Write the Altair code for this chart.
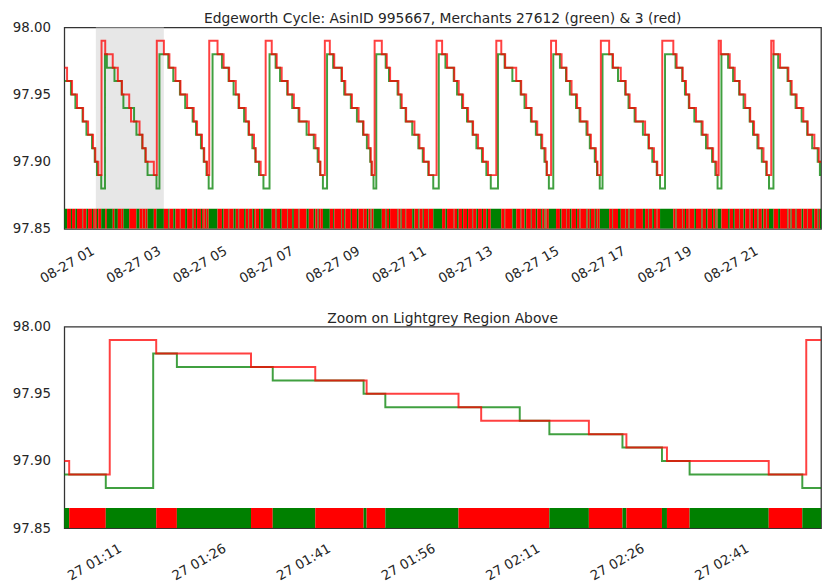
import altair as alt
import pandas as pd

DAY = (2017, 8, 27)

# ---- data (times on 08-27, prices) ----
red_times = [
    "00:02", "00:07", "00:16", "00:25", "00:36", "00:45", "00:54", "00:58", "01:03:29",
    "01:09:18", "01:15:58", "01:29:34", "01:38:47", "01:46:09", "01:59:20", "02:02:35", "02:18:02", "02:23:25", "02:29:14", "02:43:50",
    "02:49:13", "03:02", "03:12", "03:23", "03:32", "03:44", "03:56", "04:02", "04:11", "04:15", "04:20",
    "04:24", "04:39", "04:50", "05:00", "05:12", "05:18", "05:30", "05:36", "05:45", "05:48", "05:57",
    "06:06", "06:17", "06:26", "06:35", "06:46", "06:57", "07:07", "07:24", "07:36", "07:42", "07:45",
    "07:53", "08:02", "08:10", "08:24", "08:30", "08:42", "08:54", "09:03", "09:12", "09:16", "09:18",
    "09:23", "09:36", "09:45", "09:51", "10:06", "10:12", "10:20", "10:35", "10:44", "10:52", "11:01",
    "11:15", "11:25", "11:34", "11:47", "11:55", "12:03", "12:12", "12:21", "12:30", "12:39", "12:48",
    "13:03", "13:12", "13:19", "13:39", "13:48", "13:57", "14:07", "14:17", "14:26", "14:32", "14:34:24",
    "14:42", "14:51", "15:01", "15:10", "15:19", "15:29", "15:35", "15:48", "15:54", "16:03", "16:06",
    "16:12", "16:27", "16:34", "16:48", "16:57", "17:04", "17:15", "17:32", "17:39", "17:48", "17:54",
    "18:03", "18:23", "18:29", "18:40", "18:46", "18:52", "19:04", "19:16", "19:25", "19:35", "19:41",
    "19:45", "19:49", "20:05", "20:14", "20:23", "20:33", "20:42", "20:49", "20:57", "21:06", "21:12",
    "21:20", "21:24:18", "21:36", "21:51", "21:57", "22:06", "22:18", "22:26", "22:38", "22:46", "22:50",
]
red_prices = [
    97.97, 97.96, 97.95, 97.94, 97.93, 97.92, 97.91, 97.90, 97.89,
    97.99, 97.98, 97.97, 97.96, 97.95, 97.94, 97.93, 97.92, 97.91, 97.90, 97.89,
    97.99, 97.98, 97.97, 97.96, 97.95, 97.94, 97.93, 97.92, 97.91, 97.90, 97.89,
    97.99, 97.98, 97.97, 97.96, 97.95, 97.94, 97.93, 97.92, 97.91, 97.90, 97.89,
    97.99, 97.98, 97.97, 97.96, 97.95, 97.94, 97.93, 97.92, 97.91, 97.90, 97.89,
    97.99, 97.98, 97.97, 97.96, 97.95, 97.94, 97.93, 97.92, 97.91, 97.90, 97.89,
    97.99, 97.98, 97.97, 97.96, 97.95, 97.94, 97.93, 97.92, 97.91, 97.90, 97.89,
    97.99, 97.98, 97.97, 97.96, 97.95, 97.94, 97.93, 97.92, 97.91, 97.90, 97.89,
    97.99, 97.98, 97.97, 97.96, 97.95, 97.94, 97.93, 97.92, 97.91, 97.90, 97.89,
    97.99, 97.98, 97.97, 97.96, 97.95, 97.94, 97.93, 97.92, 97.91, 97.90, 97.89,
    97.99, 97.98, 97.97, 97.96, 97.95, 97.94, 97.93, 97.92, 97.91, 97.90, 97.89,
    97.99, 97.98, 97.97, 97.96, 97.95, 97.94, 97.93, 97.92, 97.91, 97.90, 97.89,
    97.99, 97.98, 97.97, 97.96, 97.95, 97.94, 97.93, 97.92, 97.91, 97.90, 97.89,
    97.99, 97.98, 97.97, 97.96, 97.95, 97.94, 97.93, 97.92, 97.91, 97.90, 97.90,
]
green_times = [
    "00:02", "00:14", "00:22", "00:35", "00:42", "00:52", "00:57", "01:01", "01:08:44",
    "01:15:32", "01:18:56", "01:32:41", "01:45:43", "01:48:50", "02:08:07", "02:12:22", "02:22:51", "02:28:31", "02:32:29", "02:48:39",
    "02:54", "03:10", "03:19", "03:31", "03:40:30", "03:54", "04:00", "04:09", "04:14", "04:19", "04:23",
    "04:30", "04:47", "04:59", "05:08", "05:17", "05:27", "05:35", "05:42", "05:47:18", "05:54", "06:02",
    "06:13", "06:24", "06:32", "06:45", "06:54", "07:05:30", "07:20", "07:33", "07:40", "07:44:30", "07:49:30",
    "07:57", "08:08", "08:23", "08:28", "08:40", "08:51", "09:02", "09:09", "09:15", "09:17:18", "09:21",
    "09:26", "09:43", "09:49", "10:04:30", "10:10", "10:19", "10:31", "10:42", "10:50", "11:00", "11:09",
    "11:19", "11:31", "11:46", "11:52", "12:01", "12:10", "12:20", "12:27", "12:37", "12:45", "12:53",
    "13:06", "13:18", "13:32", "13:47", "13:54", "14:05:30", "14:14:30", "14:24", "14:30", "14:33:54", "14:38",
    "14:46", "14:58", "15:09", "15:16", "15:27", "15:33:30", "15:46", "15:52", "16:01", "16:05", "16:10",
    "16:15", "16:33", "16:43", "16:56", "17:02", "17:13", "17:28", "17:38", "17:45", "17:53", "17:59",
    "18:08", "18:27", "18:39", "18:44", "18:51", "19:01", "19:14", "19:22", "19:33", "19:39", "19:43",
    "19:50", "20:02", "20:11", "20:22", "20:30", "20:41", "20:47", "20:55", "21:03", "21:11", "21:16",
    "21:24", "21:32:30", "21:49:30", "21:55", "22:04", "22:15", "22:25", "22:34", "22:44", "22:48", "22:50",
]
green_prices = [
    97.96, 97.95, 97.94, 97.93, 97.92, 97.91, 97.90, 97.89, 97.88,
    97.98, 97.97, 97.96, 97.95, 97.94, 97.93, 97.92, 97.91, 97.90, 97.89, 97.88,
    97.98, 97.97, 97.96, 97.95, 97.94, 97.93, 97.92, 97.91, 97.90, 97.89, 97.88,
    97.98, 97.97, 97.96, 97.95, 97.94, 97.93, 97.92, 97.91, 97.90, 97.89, 97.88,
    97.98, 97.97, 97.96, 97.95, 97.94, 97.93, 97.92, 97.91, 97.90, 97.89, 97.88,
    97.98, 97.97, 97.96, 97.95, 97.94, 97.93, 97.92, 97.91, 97.90, 97.89, 97.88,
    97.98, 97.97, 97.96, 97.95, 97.94, 97.93, 97.92, 97.91, 97.90, 97.89, 97.88,
    97.98, 97.97, 97.96, 97.95, 97.94, 97.93, 97.92, 97.91, 97.90, 97.89, 97.88,
    97.98, 97.97, 97.96, 97.95, 97.94, 97.93, 97.92, 97.91, 97.90, 97.89, 97.88,
    97.98, 97.97, 97.96, 97.95, 97.94, 97.93, 97.92, 97.91, 97.90, 97.89, 97.88,
    97.98, 97.97, 97.96, 97.95, 97.94, 97.93, 97.92, 97.91, 97.90, 97.89, 97.88,
    97.98, 97.97, 97.96, 97.95, 97.94, 97.93, 97.92, 97.91, 97.90, 97.89, 97.88,
    97.98, 97.97, 97.96, 97.95, 97.94, 97.93, 97.92, 97.91, 97.90, 97.89, 97.88,
    97.98, 97.97, 97.96, 97.95, 97.94, 97.93, 97.92, 97.91, 97.90, 97.89, 97.89,
]
grey_span = ["00:59", "03:02"]
top_domain = ["00:02", "22:50"]
bottom_domain = ["01:02:47", "02:51:20"]
top_ticks = ["01:00", "03:00", "05:00", "07:00", "09:00", "11:00",
             "13:00", "15:00", "17:00", "19:00", "21:00"]
bottom_ticks = ["01:11", "01:26", "01:41", "01:56", "02:11", "02:26", "02:41"]
y_ticks = [97.85, 97.90, 97.95, 98.00]
merchants = ["27612", "3"]  # green, red

TITLE_TOP = "Edgeworth Cycle: AsinID 995667, Merchants 27612 (green) & 3 (red)"
TITLE_BOTTOM = "Zoom on Lightgrey Region Above"


def hms(s):
    p = [int(v) for v in s.split(":")]
    while len(p) < 3:
        p.append(0)
    return p


def ts(s):
    h, m, sec = hms(s)
    return pd.Timestamp(DAY[0], DAY[1], DAY[2], h, m, sec)


def dt(s):
    h, m, sec = hms(s)
    return alt.DateTime(year=DAY[0], month=DAY[1], date=DAY[2], hours=h, minutes=m, seconds=sec)


rt = [ts(s) for s in red_times]
gt = [ts(s) for s in green_times]

lines = pd.concat([
    pd.DataFrame({"time": gt, "price": green_prices, "merchant": merchants[0]}),
    pd.DataFrame({"time": rt, "price": red_prices, "merchant": merchants[1]}),
])


def price_at(times, prices, t):
    cur = prices[0]
    for tt, pp in zip(times, prices):
        if tt <= t:
            cur = pp
        else:
            break
    return cur


# strip: green where merchant 27612 is strictly cheaper, red otherwise
events = sorted(set(rt + gt))
segs = []
for a, b in zip(events[:-1], events[1:]):
    who = merchants[0] if price_at(gt, green_prices, a) < price_at(rt, red_prices, a) - 1e-9 else merchants[1]
    if segs and segs[-1]["leader"] == who:
        segs[-1]["time2"] = b
    else:
        segs.append({"time": a, "time2": b, "leader": who})
strip = pd.DataFrame(segs)
grey = pd.DataFrame({"time": [ts(grey_span[0])], "time2": [ts(grey_span[1])]})

FONT = "DejaVu Sans"
TXT = "#262626"
W, H = 766, 204


def panel(title, domain, ticks, fmt, with_grey, lab_pad, lab_off, extent):
    xs = alt.Scale(domain=[dt(domain[0]), dt(domain[1])])
    xa = alt.Axis(values=[dt(t) for t in ticks], format=fmt, labelAngle=330,
                  labelAlign="right", labelBaseline="top", labelOffset=lab_off,
                  labelPadding=lab_pad, ticks=False, tickSize=0, domain=False, grid=False,
                  title=None, minExtent=extent, maxExtent=extent, labelOverlap=False,
                  labelFlush=False, labelBound=False)
    ys = alt.Scale(domain=[97.85, 98.0], nice=False, zero=False)
    ya = alt.Axis(values=y_ticks, format=".2f", ticks=False, tickSize=0, domain=False,
                  grid=False, title=None, labelPadding=14, minExtent=56, maxExtent=56)
    X = alt.X("time:T", scale=xs, axis=xa)
    layers = []
    if with_grey:
        layers.append(alt.Chart(grey).mark_rect(color="lightgrey", opacity=0.55)
                      .encode(x=X, x2="time2:T"))
    layers.append(alt.Chart(strip).mark_rect(clip=True).encode(
        x=X, x2="time2:T",
        y=alt.datum(97.85, scale=ys, axis=ya), y2=alt.datum(97.865),
        color=alt.Color("leader:N", legend=None,
                        scale=alt.Scale(domain=merchants, range=["#008000", "#ff0000"]))))
    layers.append(alt.Chart(lines).transform_filter(alt.datum.merchant == merchants[0])
                  .mark_line(interpolate="step-after", color="#008000", strokeWidth=2,
                             opacity=0.75, clip=True)
                  .encode(x=X, y=alt.Y("price:Q", scale=ys, axis=ya)))
    layers.append(alt.Chart(lines).transform_filter(alt.datum.merchant == merchants[1])
                  .mark_line(interpolate="step-after", color="#ff0000", strokeWidth=2,
                             opacity=0.75, clip=True)
                  .encode(x=X, y=alt.Y("price:Q", scale=ys, axis=ya)))
    layers.append(alt.Chart(pd.DataFrame({"label": [title]}))
                  .mark_text(font=FONT, fontSize=14, color=TXT, align="center",
                             baseline="alphabetic")
                  .encode(text="label:N", x=alt.value(W / 2), y=alt.value(-4)))
    return alt.layer(*layers).properties(width=W, height=H)


top = panel(TITLE_TOP, top_domain, top_ticks, "%m-%d %H", True, 15, -7, 50)
bottom = panel(TITLE_BOTTOM, bottom_domain, bottom_ticks, "%d %H:%M", False, 13, -5, 60)

chart = (alt.vconcat(top, bottom, spacing=25)
         .properties(padding={"left": 0, "top": 0, "right": 0, "bottom": 0})
         .configure_view(stroke="#333333", strokeWidth=1.3)
         .configure_axis(labelFont=FONT, labelFontSize=13.5, labelColor=TXT))

chart.save("out.html", embed_options={"renderer": "svg", "actions": False})
